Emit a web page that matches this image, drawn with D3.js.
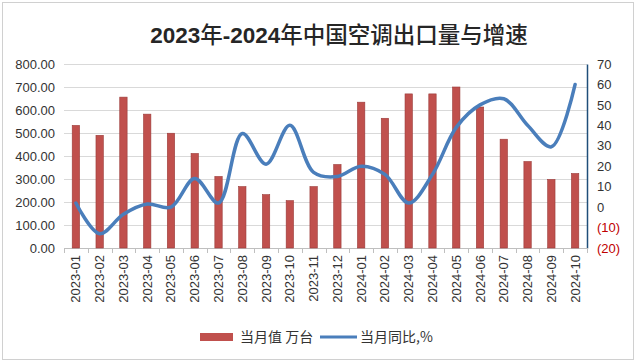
<!DOCTYPE html>
<html>
<head>
<meta charset="utf-8">
<script src="https://cdn.jsdelivr.net/npm/d3@7"></script>
<style>
  body { margin: 0; background: #fff; }
  text { font-family: "Liberation Sans", Arial, sans-serif; }
</style>
</head>
<body>
<div class="chart"></div>
<script>
// chart data
var months = ["2023-01", "2023-02", "2023-03", "2023-04", "2023-05", "2023-06", "2023-07", "2023-08", "2023-09", "2023-10", "2023-11", "2023-12",
  "2024-01", "2024-02", "2024-03", "2024-04", "2024-05", "2024-06", "2024-07", "2024-08", "2024-09", "2024-10"];
var volume = [533, 490, 656, 582, 499, 411, 311, 267, 232, 206, 267, 363,
  634, 564, 670, 670, 700, 613, 473, 376, 298, 324];
var growth = [2, -13, -3.5, 1.5, 0, 14, 2, 36, 21, 40, 17, 15,
  20, 16, 2, 16, 39, 50, 53, 40, 29.5, 60];
var leftTicks = [0, 100, 200, 300, 400, 500, 600, 700, 800];
var rightTicks = [-20, -10, 0, 10, 20, 30, 40, 50, 60, 70];

var svgWidth = 635;
var svgHeight = 362;

var margin = { top: 64, right: 48, bottom: 114, left: 64 };
var width = svgWidth - margin.left - margin.right;
var height = svgHeight - margin.top - margin.bottom;

var svg = d3.select(".chart")
  .append("svg")
  .attr("width", svgWidth)
  .attr("height", svgHeight);

// outer border
svg.append("rect")
  .attr("x", 2.5).attr("y", 2.5)
  .attr("width", svgWidth - 4).attr("height", svgHeight - 5)
  .attr("fill", "none")
  .attr("stroke", "#d0d0d0");

// title
var title = svg.append("text")
  .attr("x", 339)
  .attr("y", 43)
  .attr("text-anchor", "middle")
  .attr("fill", "#262626")
  .style("font-size", "22.5px");
title.append("tspan").style("font-weight", "bold").text("2023");
title.append("tspan").style("font-family", "'Noto Sans CJK SC'").style("font-weight", "500").text("年");
title.append("tspan").style("font-weight", "bold").text("-2024");
title.append("tspan").style("font-family", "'Noto Sans CJK SC'").style("font-weight", "500").text("年中国空调出口量与增速");

var chartGroup = svg.append("g")
  .attr("transform", `translate(${margin.left}, ${margin.top})`);

// scales
var xBandScale = d3.scaleBand()
  .domain(months)
  .range([0, width])
  .paddingInner(0.69)
  .paddingOuter(0.345);

var yLeftScale = d3.scaleLinear()
  .domain([0, 800])
  .range([height, 0]);

var yRightScale = d3.scaleLinear()
  .domain([-20, 70])
  .range([height, 0]);

// gridlines
chartGroup.append("g")
  .selectAll("line")
  .data(leftTicks.slice(1))
  .enter()
  .append("line")
  .attr("x1", 0)
  .attr("x2", width)
  .attr("y1", d => yLeftScale(d) + 0.5)
  .attr("y2", d => yLeftScale(d) + 0.5)
  .attr("stroke", "#d9d9d9");

// axes
var leftAxis = d3.axisLeft(yLeftScale)
  .tickValues(leftTicks)
  .tickFormat(d3.format(".2f"))
  .tickSize(0)
  .tickPadding(9);

var rightAxis = d3.axisRight(yRightScale)
  .tickValues(rightTicks)
  .tickFormat(d => d < 0 ? `(${-d})` : d)
  .tickSize(0)
  .tickPadding(10);

var gLeft = chartGroup.append("g").call(leftAxis);
gLeft.select(".domain").remove();
gLeft.selectAll("text")
  .attr("fill", "#333")
  .style("font-size", "13px");

var gRight = chartGroup.append("g")
  .attr("transform", `translate(${width}, 0)`)
  .call(rightAxis);
gRight.select(".domain").attr("stroke", "#1f4e79").attr("stroke-width", 1.5);
gRight.selectAll("text")
  .attr("fill", d => d < 0 ? "#c00000" : "#333")
  .style("font-size", "13px");

// bottom axis with ticks between categories
var gBottom = chartGroup.append("g")
  .attr("transform", `translate(0, ${height})`);
gBottom.append("line")
  .attr("x1", 0).attr("x2", width)
  .attr("y1", 0.5).attr("y2", 0.5)
  .attr("stroke", "#bfbfbf");
gBottom.selectAll(".tk")
  .data(d3.range(months.length + 1))
  .enter()
  .append("line")
  .attr("class", "tk")
  .attr("x1", i => Math.round(i * xBandScale.step()) + 0.5)
  .attr("x2", i => Math.round(i * xBandScale.step()) + 0.5)
  .attr("y1", 0)
  .attr("y2", 5)
  .attr("stroke", "#bfbfbf");
gBottom.selectAll(".lbl")
  .data(months)
  .enter()
  .append("text")
  .attr("class", "lbl")
  .attr("transform", d => `translate(${xBandScale(d) + xBandScale.bandwidth() / 2 + 4.5}, 7) rotate(-90)`)
  .attr("text-anchor", "end")
  .attr("fill", "#333")
  .style("font-size", "13px")
  .text(d => d);

// bars
chartGroup.selectAll(".bar")
  .data(months)
  .enter()
  .append("rect")
  .attr("class", "bar")
  .attr("x", d => xBandScale(d))
  .attr("y", (d, i) => yLeftScale(volume[i]))
  .attr("width", xBandScale.bandwidth())
  .attr("height", (d, i) => height - yLeftScale(volume[i]))
  .attr("fill", "#c0504d")
  .attr("stroke", "#9b3b39")
  .attr("stroke-width", 0.6);

// growth line
var line = d3.line()
  .x((d, i) => xBandScale(months[i]) + xBandScale.bandwidth() / 2)
  .y(d => yRightScale(d))
  .curve(d3.curveCatmullRom.alpha(0.5));

chartGroup.append("path")
  .datum(growth)
  .attr("d", line)
  .attr("fill", "none")
  .attr("stroke", "#4a7ebb")
  .attr("stroke-width", 3.5)
  .attr("stroke-linecap", "round");

// legend
var legend = svg.append("g").attr("transform", "translate(200, 337)");
legend.append("rect")
  .attr("x", 0).attr("y", -4)
  .attr("width", 33).attr("height", 8)
  .attr("fill", "#c0504d");
legend.append("text")
  .attr("x", 40).attr("y", 5)
  .attr("fill", "#333")
  .style("font-family", "'Noto Sans CJK SC'")
  .style("font-size", "14px")
  .text("当月值 万台");
legend.append("line")
  .attr("x1", 120).attr("x2", 157)
  .attr("y1", 0).attr("y2", 0)
  .attr("stroke", "#4a7ebb")
  .attr("stroke-width", 3);
legend.append("text")
  .attr("x", 160).attr("y", 5)
  .attr("fill", "#333")
  .style("font-family", "'Noto Sans CJK SC'")
  .style("font-size", "14px")
  .text("当月同比,%");
</script>
</body>
</html>
